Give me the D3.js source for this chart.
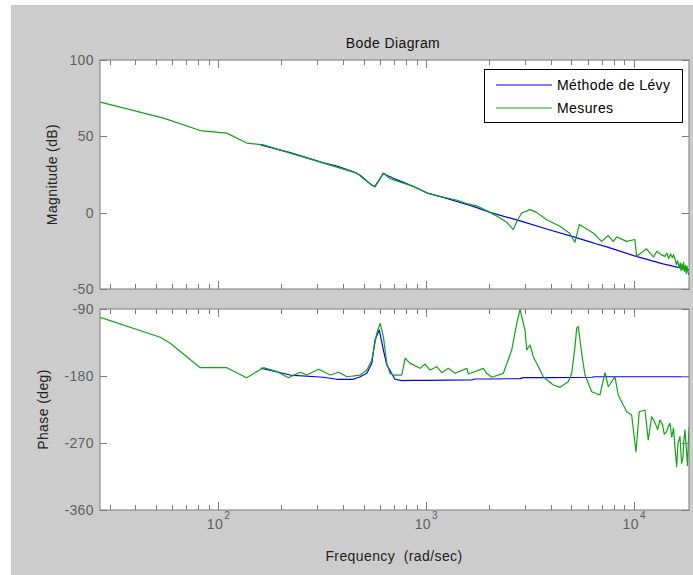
<!DOCTYPE html>
<html>
<head>
<meta charset="utf-8">
<script src="https://cdn.jsdelivr.net/npm/d3@7"></script>
<style>
  html, body { margin: 0; padding: 0; background: #fff; }
  svg { display: block; font-family: "Liberation Sans", Arial, Helvetica, sans-serif; letter-spacing: 0.4px; }
  text { white-space: pre; }
</style>
</head>
<body>
<svg id="chart" width="693" height="575"></svg>
<script>
// Measured frequency response (magnitude)
const measFreqMag = [27.1, 54.6, 81.9, 110, 137, 165, 222, 321, 464, 518, 568, 623, 671, 694, 866, 1008, 1100, 1258, 1400, 1570, 1750, 2031, 2270, 2450, 2630, 2750, 2885, 3162, 3400, 3802, 4405, 4900, 5200, 5458, 6370, 6990, 7520, 7950, 8260, 9220, 10100, 10300, 11500, 12400, 12900, 13500, 14100, 14400, 14700, 15000, 15300, 15500, 15800, 16000, 16200, 16500, 16700, 16850, 17000, 17200, 17350, 17500, 17700, 17850, 18000, 18200, 18400];
const measMagDb = [72.4, 61.9, 53.8, 52.1, 45.6, 44.4, 39.0, 32.5, 25.9, 20.5, 16.8, 25.9, 22.2, 21.6, 17.2, 12.9, 11.5, 9.6, 8.3, 5.9, 4.5, 0.2, -3.5, -6.5, -11.1, -5.0, -0.2, 2.0, 0.2, -4.6, -8.9, -13.5, -19.4, -7.8, -13.3, -18.8, -15.0, -18.8, -15.9, -18.8, -17.6, -28.6, -23.7, -29.0, -25.3, -27.5, -28.6, -26.5, -30.0, -27.0, -29.5, -27.5, -31.0, -34.0, -31.5, -36.0, -33.0, -38.0, -33.5, -37.5, -32.5, -38.5, -34.5, -40.0, -35.0, -39.0, -41.0];

// Measured frequency response (phase)
const measFreqPh = [27.1, 52.6, 58.8, 81.9, 110, 137, 165, 192, 218, 248, 267, 304, 346, 379, 416, 482, 519, 548, 579, 601, 623, 647, 671, 696, 764, 793, 838, 936, 989, 1045, 1126, 1190, 1280, 1379, 1570, 1598, 1886, 1958, 2070, 2353, 2582, 2729, 2831, 2992, 3049, 3162, 3280, 3533, 3664, 4093, 4409, 4832, 5018, 5204, 5303, 5398, 5605, 5813, 6262, 6863, 7255, 7524, 8102, 8403, 9224, 9748, 10224, 10605, 11295, 11718, 12166, 12500, 12857, 13000, 13335, 13700, 14000, 14365, 14600, 14901, 15200, 15500, 15744, 16044, 16300, 16642, 16957, 17200, 17400, 17588, 17924, 18100, 18300, 18448];
const measPhaseDeg = [-101.2, -128, -136, -168.8, -168.8, -182.3, -168.8, -174.2, -182.3, -175, -178.7, -171, -178.7, -175, -181, -178.7, -172, -158.5, -122.7, -109.2, -127.2, -163, -176.4, -178.7, -178.7, -156.2, -163, -169.7, -163.9, -172, -167.5, -175.6, -169.7, -176.4, -169.7, -177.3, -169.7, -176.4, -181.7, -176.4, -145.1, -109.2, -90.4, -118.2, -145.1, -138.4, -154, -172, -181, -192.1, -195.2, -187.7, -176.4, -140.6, -115.9, -113.8, -149.5, -178.7, -201.1, -205.5, -175.6, -194.4, -181, -205.5, -228, -232.4, -281.7, -228, -225.7, -266, -234.7, -240, -248.1, -252, -239.1, -245, -258, -254.8, -248, -243.5, -262, -250, -275, -301.8, -270, -261.5, -297.3, -290, -265, -252.5, -283.8, -300, -262, -248.1];

// Model identified with Levy's method
const levyFreq = [160, 222, 321, 372, 447, 482, 519, 548, 568, 595, 623, 647, 709, 764, 866, 1008, 1258, 1655, 1714, 2031, 2831, 2937, 3800, 5130, 6262, 6493, 7400, 9950, 13800, 18600];
const levyMagDb = [44.4, 39.3, 32.7, 30.5, 26.8, 24.5, 20.8, 18.0, 17.2, 21.5, 25.8, 24.5, 22.0, 20.3, 17.3, 13.0, 9.4, 4.4, 3.8, 0.2, -5.4, -6.0, -10.7, -15.9, -19.5, -20.2, -22.4, -28.1, -33.5, -37.7];
const levyPhaseDeg = [-169.5, -178.7, -181.7, -184.4, -184.4, -181, -176.4, -163, -131.6, -118.2, -145, -165, -184.4, -186.3, -186, -185.8, -185.6, -185.4, -184, -184, -183.5, -182.2, -182.2, -182, -181.7, -181, -181, -181, -181, -181];

const magTicks = [100, 50, 0, -50];
const phaseTicks = [-90, -180, -270, -360];
const freqLabelExps = [2, 3, 4];
const seriesNames = ["Méthode de Lévy", "Mesures"];
const seriesColors = ["#0000ff", "#11a511"];

const svg = d3.select("#chart");
const W = 693, H = 575;
const axisColor = "#7a7a7a";
const labelColor = "#5f5f5f";
const fontSize = 14;

svg.append("rect").attr("x", 0).attr("y", 0).attr("width", W).attr("height", H).attr("fill", "#fff");
svg.append("rect").attr("x", 11).attr("y", 5).attr("width", W - 11).attr("height", H - 5).attr("fill", "#cccccc");

const x = d3.scaleLog().domain([27, 18400]).range([100, 689]);

const panels = [
  { id: "mag", y0: 60, y1: 289, domain: [-50, 100], ticks: magTicks, label: "Magnitude (dB)", labelX: 52,
    series: [[levyFreq, levyMagDb], [measFreqMag, measMagDb]] },
  { id: "ph", y0: 309, y1: 510, domain: [-360, -90], ticks: phaseTicks, label: "Phase (deg)", labelX: 43,
    series: [[levyFreq, levyPhaseDeg], [measFreqPh, measPhaseDeg]] }
];

const defs = svg.append("defs");

panels.forEach(p => {
  const y = d3.scaleLinear().domain(p.domain).range([p.y1, p.y0]);
  const [xl, xr] = x.range();

  svg.append("rect").attr("x", xl).attr("y", p.y0).attr("width", xr - xl).attr("height", p.y1 - p.y0)
    .attr("fill", "#fff");

  defs.append("clipPath").attr("id", "clip-" + p.id)
    .append("rect").attr("x", xl).attr("y", p.y0).attr("width", xr - xl).attr("height", p.y1 - p.y0);

  const g = svg.append("g").attr("clip-path", "url(#clip-" + p.id + ")");
  const line = d3.line().x(d => x(d[0])).y(d => y(d[1]));
  p.series.forEach((s, i) => {
    const pts = s[0].map((f, k) => [f, s[1][k]]);
    g.append("path").datum(pts).attr("d", line)
      .attr("fill", "none").attr("stroke", seriesColors[i]).attr("stroke-width", 1.2)
      .attr("stroke-linejoin", "round");
  });

  // frame
  svg.append("rect").attr("x", xl).attr("y", p.y0).attr("width", xr - xl).attr("height", p.y1 - p.y0)
    .attr("fill", "none").attr("stroke", axisColor).attr("stroke-width", 1);

  // frequency ticks (top and bottom, inward)
  const ft = x.ticks().filter(t => t >= x.domain()[0] && t <= x.domain()[1]);
  ft.forEach(t => {
    const isMajor = Math.abs(Math.log10(t) - Math.round(Math.log10(t))) < 1e-9;
    const len = isMajor ? 8 : 5;
    const xp = Math.round(x(t)) + 0.5;
    svg.append("line").attr("x1", xp).attr("x2", xp).attr("y1", p.y0).attr("y2", p.y0 + len)
      .attr("stroke", axisColor);
    svg.append("line").attr("x1", xp).attr("x2", xp).attr("y1", p.y1).attr("y2", p.y1 - len)
      .attr("stroke", axisColor);
  });

  // value ticks (left and right, inward) and labels
  p.ticks.forEach(t => {
    const yp = Math.round(y(t)) + 0.5;
    svg.append("line").attr("x1", xl).attr("x2", xl + 7).attr("y1", yp).attr("y2", yp).attr("stroke", axisColor);
    svg.append("line").attr("x1", xr).attr("x2", xr - 7).attr("y1", yp).attr("y2", yp).attr("stroke", axisColor);
    svg.append("text").attr("x", 94).attr("y", y(t)).attr("dy", "0.35em")
      .attr("text-anchor", "end").attr("font-size", fontSize).attr("fill", labelColor).text(t);
  });

  svg.append("text")
    .attr("transform", `translate(${p.labelX},${(p.y0 + p.y1) / 2}) rotate(-90)`)
    .attr("text-anchor", "middle").attr("dy", "0.35em")
    .attr("font-size", fontSize).attr("fill", "#222").text(p.label);
});

// decade labels under the phase panel
freqLabelExps.forEach(e => {
  const xp = x(Math.pow(10, e));
  svg.append("text").attr("x", xp + 5).attr("y", 529).attr("text-anchor", "end")
    .attr("font-size", fontSize).attr("fill", labelColor).text("10");
  svg.append("text").attr("x", xp + 6).attr("y", 519).attr("font-size", 10).attr("fill", labelColor).text(e);
});

svg.append("text").attr("x", 394).attr("y", 561).attr("text-anchor", "middle")
  .attr("font-size", fontSize).attr("fill", "#222").text("Frequency  (rad/sec)");

svg.append("text").attr("x", 393).attr("y", 48).attr("text-anchor", "middle")
  .attr("font-size", fontSize).attr("fill", "#111").text("Bode Diagram");

// legend
const lg = svg.append("g");
lg.append("rect").attr("x", 484.5).attr("y", 69.5).attr("width", 198).attr("height", 53)
  .attr("fill", "#fff").attr("stroke", "#000").attr("stroke-width", 1);
seriesNames.forEach((name, i) => {
  const yy = 85 + i * 23;
  lg.append("line").attr("x1", 496).attr("x2", 552).attr("y1", yy).attr("y2", yy)
    .attr("stroke", seriesColors[i]).attr("stroke-width", 1.2);
  lg.append("text").attr("x", 557).attr("y", yy).attr("dy", "0.35em")
    .attr("font-size", fontSize).attr("fill", "#000").text(name);
});
</script>
</body>
</html>
